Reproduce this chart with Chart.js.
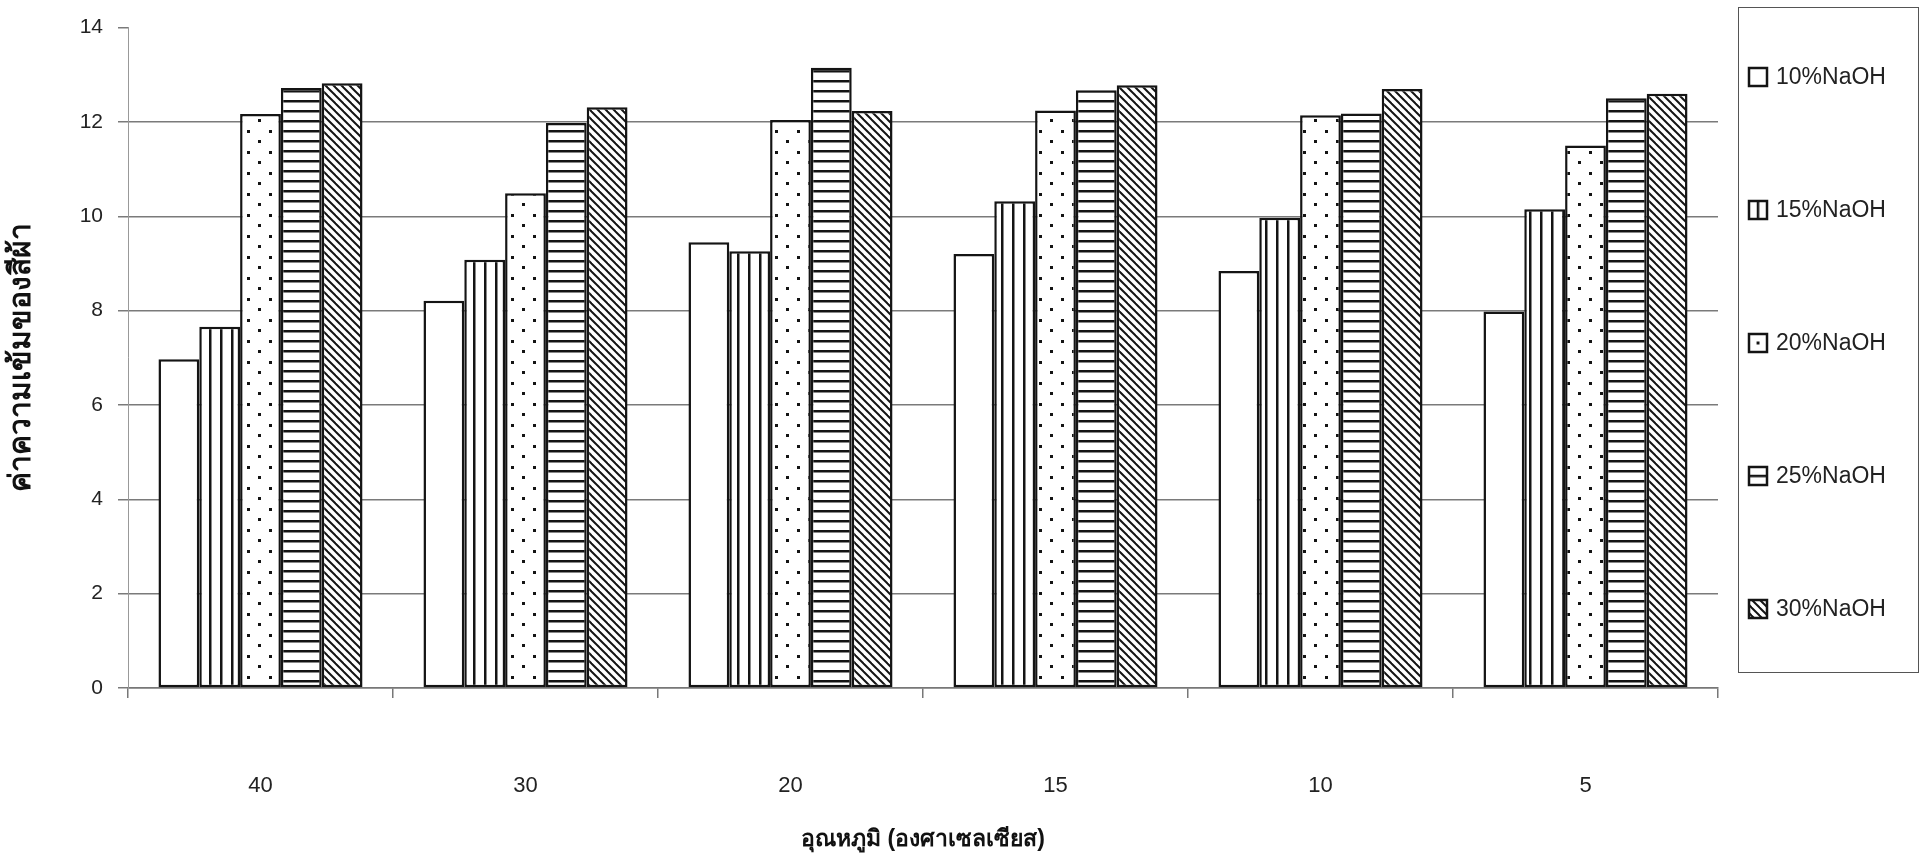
<!DOCTYPE html>
<html><head><meta charset="utf-8">
<script src="https://cdn.jsdelivr.net/npm/chart.js@4"></script>
<style>html,body{margin:0;padding:0;background:#fff;} #wrap{width:1928px;height:857px;position:relative;}</style>
</head><body><div id="wrap"><canvas id="c" width="1928" height="857"></canvas></div>
<script>
const categories = ['40', '30', '20', '15', '10', '5'];
const s10 = [6.97, 8.21, 9.45, 9.20, 8.84, 7.98];
const s15 = [7.66, 9.08, 9.26, 10.32, 9.97, 10.15];
const s20 = [12.17, 10.49, 12.04, 12.24, 12.14, 11.50];
const s25 = [12.72, 11.98, 13.15, 12.67, 12.18, 12.50];
const s30 = [12.82, 12.31, 12.23, 12.78, 12.70, 12.60];
const seriesLabels = ['10%NaOH', '15%NaOH', '20%NaOH', '25%NaOH', '30%NaOH'];
const yTitle = 'ค่าความเข้มของสีผ้า';
const xTitle = 'อุณหภูมิ (องศาเซลเซียส)';

const INK = '#141414';
function tile(w, h, draw) {
  const c = document.createElement('canvas');
  c.width = w; c.height = h;
  const g = c.getContext('2d');
  g.fillStyle = '#fff'; g.fillRect(0, 0, w, h);
  g.fillStyle = INK; g.strokeStyle = INK;
  draw(g);
  return c.getContext('2d').createPattern(c, 'repeat');
}
const pWhite = '#ffffff';
const pVert = tile(11, 11, g => { g.fillRect(0, 0, 2.5, 11); });
const pDots = tile(22, 21, g => { g.fillRect(5, 4, 3, 3); g.fillRect(16, 14, 3, 3); });
const pHorz = tile(10, 10, g => { g.fillRect(0, 0, 10, 2.5); });
const pDiag = tile(8, 8, g => {
  g.lineWidth = 2;
  g.beginPath(); g.moveTo(-1, -1); g.lineTo(9, 9); g.stroke();
  g.beginPath(); g.moveTo(-9, -1); g.lineTo(1, 9); g.stroke();
  g.beginPath(); g.moveTo(7, -1); g.lineTo(17, 9); g.stroke();
});
const fills = [pWhite, pVert, pDots, pHorz, pDiag];
const values = [s10, s15, s20, s25, s30];
// pattern feature offsets so that the legend swatch shows a centred mark
const swatchShift = [[0, 0], [1.25, 0], [6.5, 5.5], [0, 1.25], [0, 0]];

const legendBox = {
  id: 'legendBox',
  afterDraw(chart) {
    const ctx = chart.ctx;
    ctx.save();
    ctx.strokeStyle = '#555'; ctx.lineWidth = 1;
    ctx.strokeRect(1738.5, 7.5, 180, 665);
    chart.data.datasets.forEach((ds, i) => {
      const cy = 77 + i * 133, cx = 1758;
      const sh = swatchShift[i];
      const tx = sh[0] ? cx - sh[0] : 0, ty = sh[1] ? cy - sh[1] : 0;
      ctx.save();
      ctx.translate(tx, ty);
      ctx.fillStyle = ds.backgroundColor;
      ctx.fillRect(cx - 9 - tx, cy - 9 - ty, 18, 18);
      ctx.restore();
      ctx.strokeStyle = INK; ctx.lineWidth = 2.5;
      ctx.strokeRect(cx - 9, cy - 9, 18, 18);
      ctx.fillStyle = '#222';
      ctx.font = '23px "Liberation Sans", Arial, sans-serif';
      ctx.textBaseline = 'middle'; ctx.textAlign = 'left';
      ctx.fillText(ds.label, 1776, cy + 1);
    });
    ctx.restore();
  }
};

new Chart(document.getElementById('c'), {
  type: 'bar',
  data: {
    labels: categories,
    datasets: seriesLabels.map((l, i) => ({
      label: l,
      data: values[i],
      backgroundColor: fills[i],
      borderColor: INK,
      borderWidth: 2.5,
      borderSkipped: false,
      categoryPercentage: 0.77,
      barPercentage: 1.0
    }))
  },
  options: {
    responsive: false,
    animation: false,
    layout: { padding: { left: 0, right: 210, top: 24, bottom: 0 } },
    plugins: { legend: { display: false }, tooltip: { enabled: false } },
    scales: {
      x: {
        afterFit(s) { s.height = 169; },
        grid: { offset: true, drawOnChartArea: false, drawTicks: true, tickLength: 10, color: '#777', lineWidth: 1.5 },
        border: { display: true, color: '#777', width: 1.5 },
        ticks: { color: '#222', font: { family: '"Liberation Sans", Arial, sans-serif', size: 22 }, padding: 75 },
        title: { display: true, text: xTitle, color: '#111', font: { family: '"Liberation Sans", "DejaVu Sans", sans-serif', size: 23, weight: 'bold' }, padding: { top: 0, bottom: 4 } }
      },
      y: {
        min: 0, max: 14,
        afterFit(s) { s.width = 128; },
        grid: {
          color: c => (c.tick && c.tick.value === 14) ? 'rgba(0,0,0,0)' : '#7a7a7a',
          tickColor: '#7a7a7a', lineWidth: 1.5, tickLength: 10
        },
        border: { display: true, color: '#999', width: 1 },
        ticks: { stepSize: 2, color: '#222', font: { family: '"Liberation Sans", Arial, sans-serif', size: 21 }, padding: 15 },
        title: { display: true, text: yTitle, color: '#111', font: { family: '"Liberation Sans", "DejaVu Sans", sans-serif', size: 30, weight: 'bold' }, padding: { top: 4, bottom: 0 } }
      }
    }
  },
  plugins: [legendBox]
});
</script>
</body></html>
